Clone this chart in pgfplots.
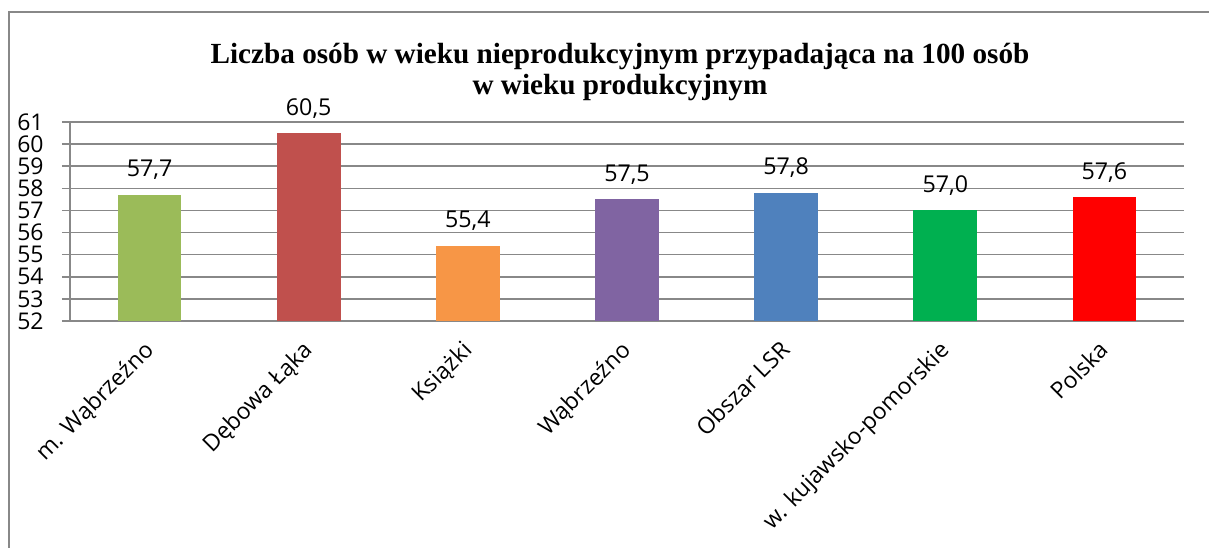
\documentclass[border=0pt]{standalone}
\usepackage{fontspec}
\setmainfont{Open Sans}
\newfontfamily\titlefont{Liberation Serif}
\usepackage{pgfplots}
\pgfplotsset{compat=1.18}

\definecolor{cA}{HTML}{9BBB59}
\definecolor{cB}{HTML}{C0504D}
\definecolor{cC}{HTML}{F79646}
\definecolor{cD}{HTML}{8064A2}
\definecolor{cE}{HTML}{4F81BD}
\definecolor{cF}{HTML}{00B050}
\definecolor{cG}{HTML}{FF0000}
\definecolor{gridgray}{HTML}{888888}

\begin{document}
\begin{tikzpicture}
\useasboundingbox (-35pt,-113pt) rectangle (569.5pt,160.5pt);
% chart frame (bottom cut off in the reference)
\draw[gridgray, line width=0.75pt] (-30.5pt,-120pt) -- (-30.5pt,154.5pt) -- (580pt,154.5pt);

\node[font=\titlefont\bfseries\fontsize{14.6}{15.5}\selectfont, align=center]
  at (275pt,124.5pt) {Liczba osób w wieku nieprodukcyjnym przypadająca na 100 osób\\ w wieku produkcyjnym};

\begin{axis}[
    at={(0pt,0pt)}, anchor=south west,
    scale only axis, width=557pt, height=99.5pt,
    ybar, bar shift=0pt, bar width=0.4,
    xmin=-0.5, xmax=6.5, ymin=52, ymax=61,
    axis x line=bottom, axis y line=left,
    axis line style={gridgray, line width=0.75pt, -},
    ytick={52,...,61},
    ymajorgrids, grid style={gridgray, line width=0.75pt},
    tick style={gridgray, line width=0.75pt},
    tick align=outside,
    major tick length=4pt,
    xtick={0,...,6},
    x tick style={draw=none},
    xticklabels={m. Wąbrzeźno, Dębowa Łąka, Książki, Wąbrzeźno, Obszar LSR, w. kujawsko-pomorskie, Polska},
    minor xtick={-0.5,0.5,...,6.5},
    minor x tick style={gridgray, line width=0.75pt},
    minor tick length=4pt,
    xticklabel style={rotate=45, anchor=north east, inner sep=0pt, yshift=-1pt, xshift=-6pt},
    yticklabel style={anchor=east, inner sep=0pt, xshift=-9pt},
    tick label style={font=\fontsize{11.5}{11.5}\selectfont},
    xticklabel style={font=\fontsize{11.5}{11.5}\selectfont},
    /pgf/number format/assume math mode=true,
    nodes near coords,
    nodes near coords style={font=\fontsize{11.6}{11.6}\selectfont, anchor=base, inner sep=0pt, yshift=9pt,
      /pgf/number format/.cd, fixed, fixed zerofill, precision=1, use comma, assume math mode=true},
    every axis plot/.append style={draw=none},
  ]
  \addplot[fill=cA] coordinates {(0,57.7)};
  \addplot[fill=cB] coordinates {(1,60.5)};
  \addplot[fill=cC] coordinates {(2,55.4)};
  \addplot[fill=cD] coordinates {(3,57.5)};
  \addplot[fill=cE] coordinates {(4,57.8)};
  \addplot[fill=cF] coordinates {(5,57.0)};
  \addplot[fill=cG] coordinates {(6,57.6)};
\end{axis}
\end{tikzpicture}
\end{document}
